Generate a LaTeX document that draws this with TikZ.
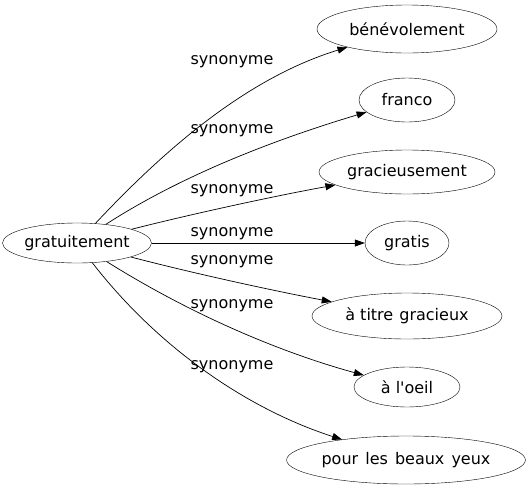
\documentclass[tikz,border=0pt]{standalone}
\usepackage{fontspec}
\setmainfont{DejaVu Sans}
\usetikzlibrary{shapes.geometric,arrows.meta}
\begin{document}
\begin{tikzpicture}[x=1pt,y=-1pt,
  word/.style={draw,ellipse,inner sep=0pt,font=\fontsize{16}{18}\selectfont},
  syn/.style={-{Triangle[length=10pt,width=7pt]},line width=0.7pt},
  lab/.style={font=\fontsize{16}{18}\selectfont,inner sep=0pt}]
\useasboundingbox (0,0) rectangle (531,491);
\node[word,minimum width=144pt,minimum height=40pt] (g) at (77,243) {gratuitement};
\node[word,minimum width=180pt,minimum height=48pt] (b) at (407,29) {bénévolement};
\node[word,minimum width=96pt,minimum height=44pt] (f) at (407,100) {franco};
\node[word,minimum width=176pt,minimum height=44pt] (gr) at (407,172) {gracieusement};
\node[word,minimum width=84pt,minimum height=44pt] (gs) at (407,243) {gratis};
\node[word,minimum width=190pt,minimum height=46pt] (t) at (407,316) {à titre \kern1pt gracieux};
\node[word,minimum width=106pt,minimum height=40pt] (o) at (407,387) {à l\textquotesingle oeil};
\node[word,minimum width=238pt,minimum height=48pt] (p) at (406,460) {pour \kern2pt les \kern2pt beaux \kern2pt yeux};
\draw[syn] (g) .. controls (155,160) and (240,80) .. (b);
\draw[syn] (g) .. controls (190,170) and (290,135) .. (f);
\draw[syn] (g) .. controls (200,212) and (280,195) .. (gr);
\draw[syn] (g) -- (gs);
\draw[syn] (g) .. controls (200,275) and (280,292) .. (t);
\draw[syn] (g) .. controls (200,320) and (290,355) .. (o);
\draw[syn] (g) .. controls (160,350) and (250,410) .. (p);
\node[lab] (l1) at (232,62) {synonyme};
\node[lab] (l2) at (232,131) {synonyme};
\node[lab] (l3) at (232,191) {synonyme};
\node[lab] (l4) at (232,234) {synonyme};
\node[lab] (l5) at (232,262) {synonyme};
\node[lab] (l6) at (232,306) {synonyme};
\node[lab] (l7) at (232,367) {synonyme};
\end{tikzpicture}
\end{document}
